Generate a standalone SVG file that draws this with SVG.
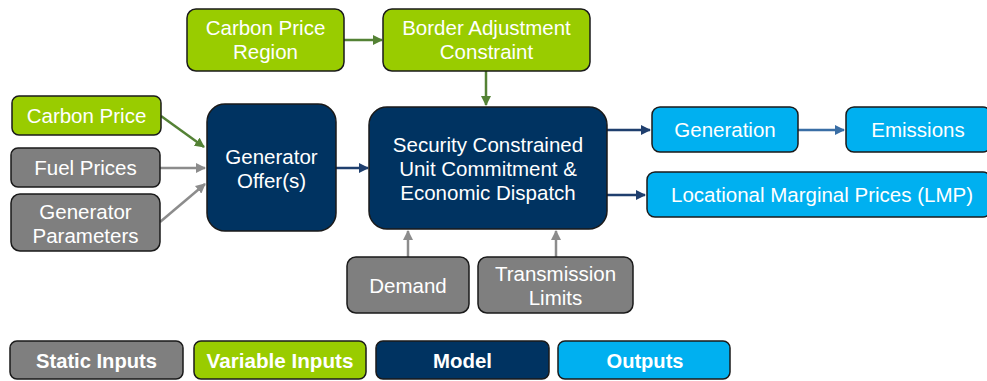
<svg xmlns="http://www.w3.org/2000/svg" width="987" height="381" viewBox="0 0 987 381">
<defs>
<style>
.b{stroke:#1a1a1a;stroke-width:1.5}
.g{fill:#99cc00}.s{fill:#7f7f7f}.m{fill:#003361}.o{fill:#00b0f0}
text{font-family:"Liberation Sans",Arial,sans-serif;font-size:20.5px;fill:#fff;text-anchor:middle}
.lg{font-family:"Liberation Sans Narrow","Liberation Sans",sans-serif;font-weight:bold;font-size:21px}
.cg{stroke:#548235;stroke-width:2.5;fill:none}
.cs{stroke:#8c8c8c;stroke-width:2.5;fill:none}
.cm{stroke:#1f3f6e;stroke-width:2.5;fill:none}
.cb{stroke:#3a6ea5;stroke-width:2.5;fill:none}
</style>
<marker id="ag" viewBox="0 0 10 10" refX="9" refY="5" markerWidth="4" markerHeight="4" orient="auto"><path d="M0,0L10,5L0,10z" fill="#548235"/></marker>
<marker id="as" viewBox="0 0 10 10" refX="9" refY="5" markerWidth="4" markerHeight="4" orient="auto"><path d="M0,0L10,5L0,10z" fill="#8c8c8c"/></marker>
<marker id="am" viewBox="0 0 10 10" refX="9" refY="5" markerWidth="4" markerHeight="4" orient="auto"><path d="M0,0L10,5L0,10z" fill="#1f3f6e"/></marker>
<marker id="ab" viewBox="0 0 10 10" refX="9" refY="5" markerWidth="4" markerHeight="4" orient="auto"><path d="M0,0L10,5L0,10z" fill="#3a6ea5"/></marker>
</defs>
<g id="connectors">
<path class="cg" d="M344,40H382" marker-end="url(#ag)"/>
<path class="cg" d="M486,71V105" marker-end="url(#ag)"/>
<path class="cg" d="M161,116L204,147" marker-end="url(#ag)"/>
<path class="cs" d="M160,168H205" marker-end="url(#as)"/>
<path class="cs" d="M160,222L205,184" marker-end="url(#as)"/>
<path class="cm" d="M336,168H368" marker-end="url(#am)"/>
<path class="cs" d="M408,257V231" marker-end="url(#as)"/>
<path class="cs" d="M556,257V231" marker-end="url(#as)"/>
<path class="cm" d="M607,130H650" marker-end="url(#am)"/>
<path class="cm" d="M607,195H645" marker-end="url(#am)"/>
<path class="cb" d="M797,130H844" marker-end="url(#ab)"/>
</g>
<g id="carbon-price-region"><rect class="b g" x="187" y="9" width="157" height="62" rx="9"/><text x="265.5" y="35">Carbon Price</text><text x="265.5" y="59">Region</text></g>
<g id="border-adjustment"><rect class="b g" x="383" y="9" width="207" height="62" rx="9"/><text x="486.5" y="35">Border Adjustment</text><text x="486.5" y="59">Constraint</text></g>
<g id="carbon-price"><rect class="b g" x="12" y="96" width="149" height="39" rx="7"/><text x="86.5" y="123">Carbon Price</text></g>
<g id="fuel-prices"><rect class="b s" x="11" y="148" width="149" height="39" rx="7"/><text x="85.5" y="175">Fuel Prices</text></g>
<g id="generator-parameters"><rect class="b s" x="11" y="194" width="149" height="57" rx="9"/><text x="85.5" y="219">Generator</text><text x="85.5" y="243">Parameters</text></g>
<g id="generator-offers"><rect class="b m" x="207" y="104" width="129" height="127" rx="18"/><text x="271.5" y="164">Generator</text><text x="271.5" y="188">Offer(s)</text></g>
<g id="scuc"><rect class="b m" x="369" y="107" width="238" height="122" rx="18"/><text x="488" y="152">Security Constrained</text><text x="488" y="176">Unit Commitment &amp;</text><text x="488" y="200">Economic Dispatch</text></g>
<g id="generation"><rect class="b o" x="652" y="107" width="146" height="45" rx="8"/><text x="725" y="137">Generation</text></g>
<g id="emissions"><rect class="b o" x="846" y="107" width="145" height="45" rx="8"/><text x="918" y="137">Emissions</text></g>
<g id="lmp"><rect class="b o" x="647" y="172" width="344" height="45" rx="8"/><text x="822" y="202">Locational Marginal Prices (LMP)</text></g>
<g id="demand"><rect class="b s" x="347" y="257" width="122" height="56" rx="9"/><text x="408" y="293">Demand</text></g>
<g id="transmission-limits"><rect class="b s" x="478" y="257" width="155" height="56" rx="9"/><text x="555.5" y="281">Transmission</text><text x="555.5" y="305">Limits</text></g>
<g id="legend">
<rect class="b s" x="10" y="341" width="173" height="38" rx="7"/><text class="lg" x="96.5" y="368" textLength="121" lengthAdjust="spacingAndGlyphs">Static Inputs</text>
<rect class="b g" x="194" y="341" width="172" height="38" rx="7"/><text class="lg" x="280" y="368" textLength="147" lengthAdjust="spacingAndGlyphs">Variable Inputs</text>
<rect class="b m" x="376" y="341" width="173" height="38" rx="7"/><text class="lg" x="462.5" y="368" textLength="59" lengthAdjust="spacingAndGlyphs">Model</text>
<rect class="b o" x="558" y="341" width="172" height="38" rx="7"/><text class="lg" x="645" y="368" textLength="77" lengthAdjust="spacingAndGlyphs">Outputs</text>
</g>
</svg>
